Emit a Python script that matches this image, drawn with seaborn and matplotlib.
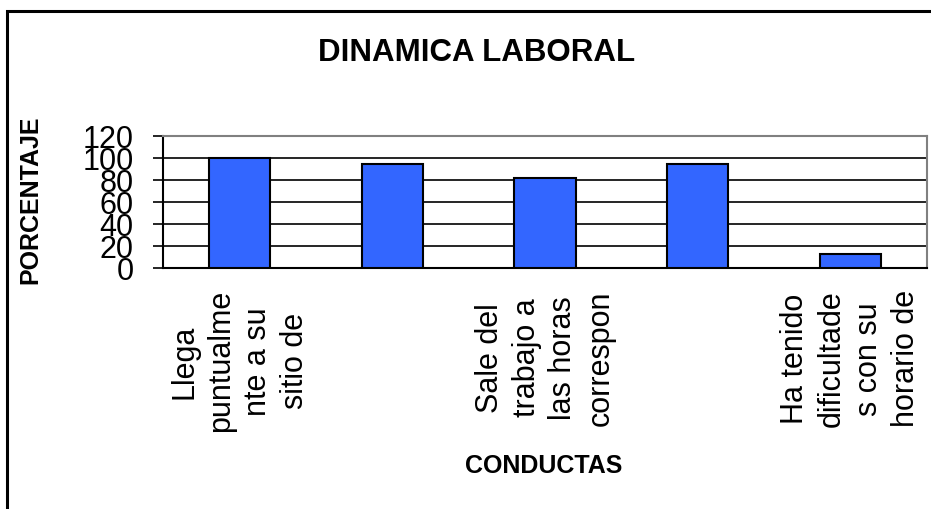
import matplotlib
matplotlib.use("Agg")
import matplotlib.pyplot as plt
import seaborn as sns
from matplotlib.patches import Rectangle

# values
posiciones = [0, 1, 2, 3, 4]
porcentaje = [100, 95, 82, 95, 13]
etiquetas = ["Llega\npuntualme\nnte a su\nsitio de", "",
             "Sale del\ntrabajo a\nlas horas\ncorrespon", "",
             "Ha tenido\ndificultade\ns con su\nhorario de"]
yticks = [0, 20, 40, 60, 80, 100, 120]

sns.set_style("white")
plt.rcParams['font.family'] = ['Liberation Sans', 'DejaVu Sans']
plt.rcParams['text.color'] = 'black'
plt.rcParams['xtick.color'] = 'black'
plt.rcParams['ytick.color'] = 'black'
plt.rcParams['axes.labelcolor'] = 'black'

fig = plt.figure(figsize=(9.31, 5.09), dpi=100)
ax = fig.add_axes([163 / 931, 1 - 268 / 509, (927 - 163) / 931, (268 - 136) / 509])

sns.barplot(x=posiciones, y=porcentaje, color="#3366FF", saturation=1,
            edgecolor="black", linewidth=1.5, width=0.4, ax=ax, zorder=3)

ax.set_xlim(-0.5, 4.5)
ax.set_ylim(0, 120)
ax.set_yticks(yticks)
ax.set_yticklabels([str(v) for v in yticks], fontsize=22)
ax.yaxis.grid(True, color="black", linewidth=1.2, zorder=0)
ax.set_axisbelow(True)

ax.set_xticks(posiciones)
ax.set_xticklabels(etiquetas, rotation=90, fontsize=22, linespacing=1.3,
                   multialignment="center")
ax.set_xticks([-0.5, 0.5, 1.5, 2.5, 3.5, 4.5], minor=True)
ax.tick_params(axis="x", which="major", length=0, pad=16)
ax.tick_params(axis="x", which="minor", length=7, width=1.5, direction="out", color="black")
ax.tick_params(axis="y", length=7, width=1.2, direction="out", color="black", pad=14, left=True)

for s in ["left", "bottom"]:
    ax.spines[s].set_color("black")
    ax.spines[s].set_linewidth(1.5)
for s in ["top", "right"]:
    ax.spines[s].set_color("#808080")
    ax.spines[s].set_linewidth(1.5)

ax.set_xlabel("")
ax.set_ylabel("")

fig.text(477 / 931, 1 - 53 / 509, "DINAMICA LABORAL", fontsize=22.5, fontweight="bold",
         ha="center", va="center")
fig.text(30 / 931, 1 - 200 / 509, "PORCENTAJE", fontsize=18, fontweight="bold",
         rotation=90, ha="center", va="center")
fig.text(544 / 931, 1 - 466 / 509, "CONDUCTAS", fontsize=18, fontweight="bold",
         ha="center", va="center")

# outer chart border (right and bottom edges fall outside the image)
fig.patches.append(Rectangle((7 / 931, -0.1), 1.1, 1 - 11 / 509 + 0.1,
                             transform=fig.transFigure, fill=False,
                             edgecolor="black", linewidth=2.2))

fig.savefig("out.png", dpi=100)
